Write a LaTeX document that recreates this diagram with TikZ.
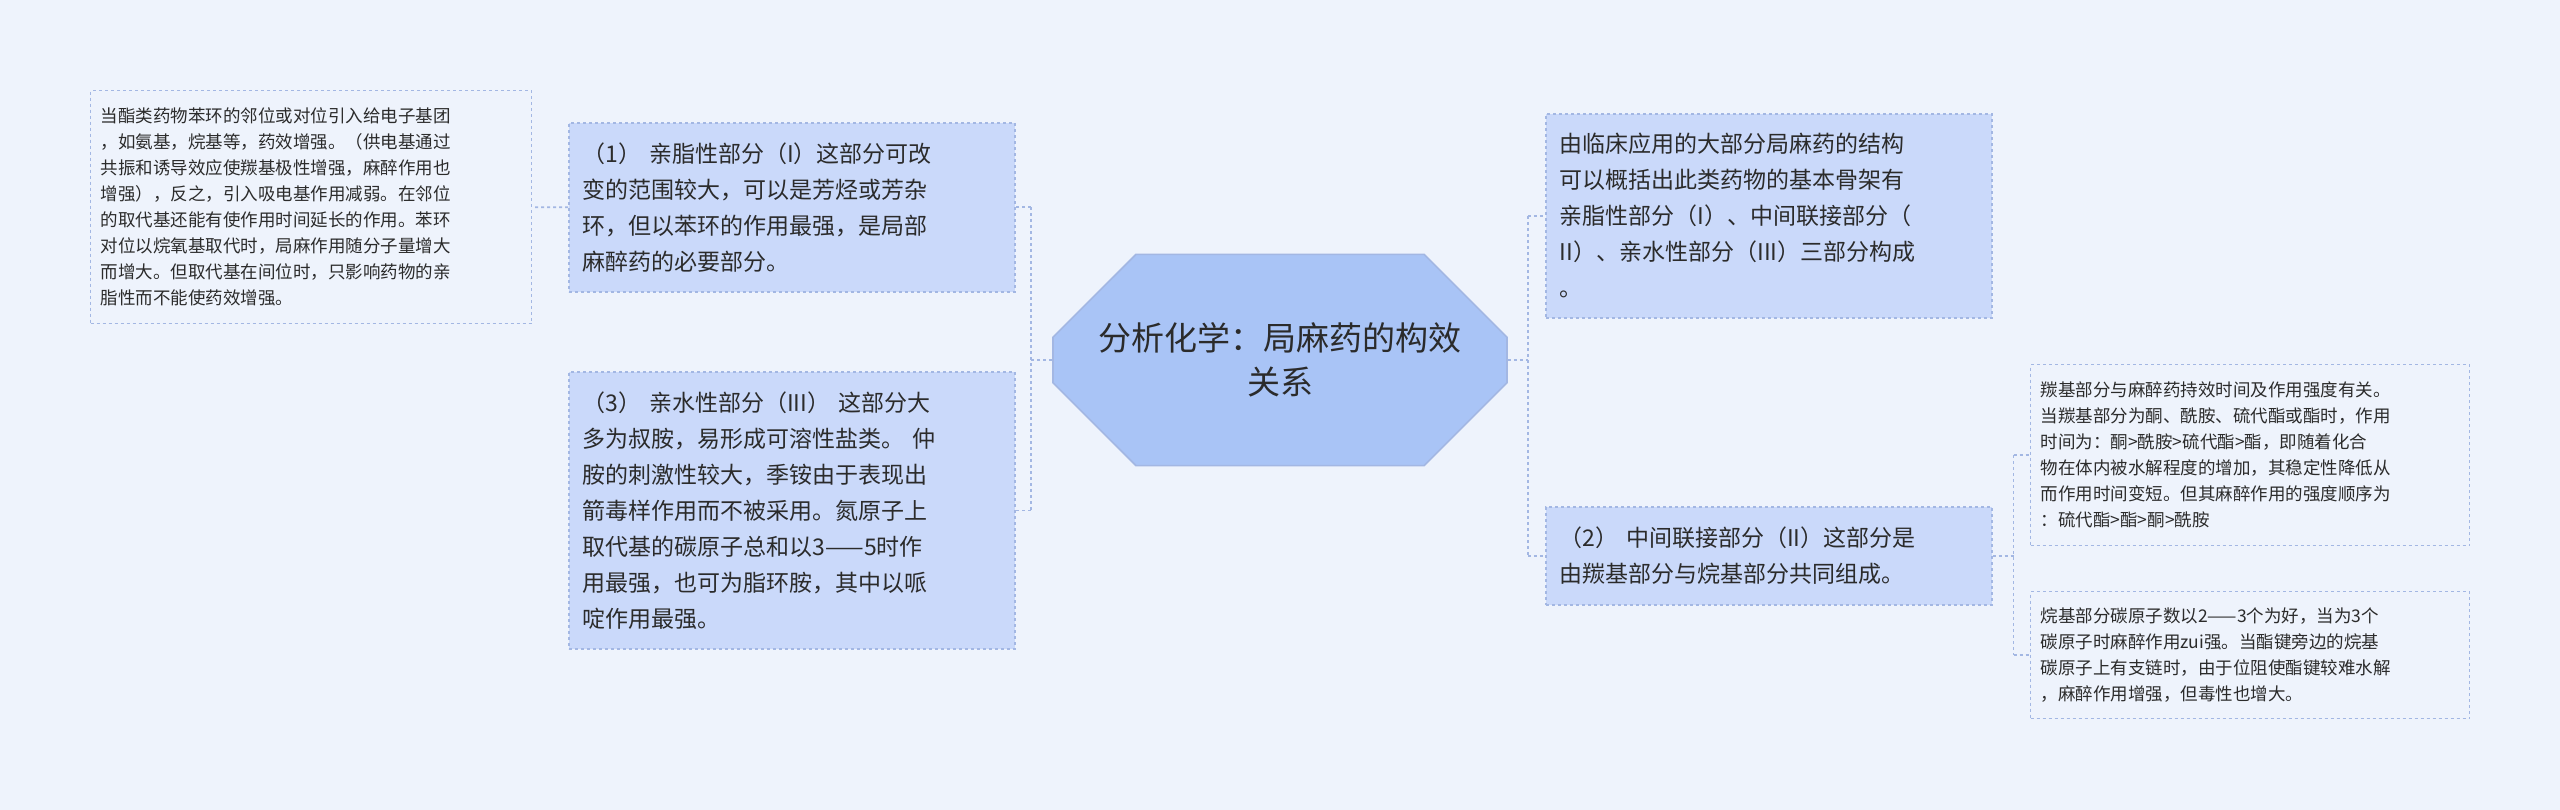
\documentclass[tikz,border=0pt]{standalone}
\usepackage{fontspec}
\setmainfont{Noto Sans CJK SC}
\usetikzlibrary{shapes.misc}
\definecolor{bgblue}{HTML}{EEF3FC}
\definecolor{boxfill}{HTML}{CAD9FA}
\definecolor{boxline}{HTML}{A3B7E3}
\definecolor{rootfill}{HTML}{A9C4F6}
\definecolor{textcol}{HTML}{2B2B2B}
\tikzset{
  topicbox/.style={draw=boxline, dashed, fill=boxfill, line width=1.6pt, text=textcol,
    align=left, inner sep=14pt, font=\fontsize{23}{36}\selectfont, anchor=north west},
  notebox/.style={draw=boxline, dashed, fill=bgblue, line width=1.4pt, text=textcol,
    align=left, inner sep=10pt, font=\fontsize{17.5}{26}\selectfont, anchor=north west},
  link/.style={draw=boxline, dashed, line width=1.6pt}
}
\begin{document}
\begin{tikzpicture}[x=1pt,y=-1pt]
  \fill[bgblue] (0,0) rectangle (2560,810);
  \useasboundingbox (0,0) rectangle (2560,810);

  % root
  \node[draw=boxline, fill=rootfill, line width=1.6pt, chamfered rectangle,
    chamfered rectangle xsep=18pt, chamfered rectangle ysep=65pt,
    minimum width=454pt, minimum height=131pt, align=center, text=textcol,
    font=\fontsize{33}{44}\selectfont] (root) at (1280,360) {分析化学：局麻药的构效\\关系};

  % left side
  \node[topicbox, text width=418pt, minimum height=169pt] (lipo) at (568,122)
    {（1） 亲脂性部分（I）这部分可改\\变的范围较大，可以是芳烃或芳杂\\环，但以苯环的作用最强，是局部\\麻醉药的必要部分。};
  \node[topicbox, text width=418pt, minimum height=277pt] (hydro) at (568,371)
    {（3） 亲水性部分（III） 这部分大\\多为叔胺，易形成可溶性盐类。 仲\\胺的刺激性较大，季铵由于表现出\\箭毒样作用而不被采用。氮原子上\\取代基的碳原子总和以3——5时作\\用最强，也可为脂环胺，其中以哌\\啶作用最强。};
  \node[notebox, text width=421pt, minimum height=233pt] (ring) at (90,90)
    {当酯类药物苯环的邻位或对位引入给电子基团\\，如氨基，烷基等，药效增强。（供电基通过\\共振和诱导效应使羰基极性增强，麻醉作用也\\增强），反之，引入吸电基作用减弱。在邻位\\的取代基还能有使作用时间延长的作用。苯环\\对位以烷氧基取代时，局麻作用随分子量增大\\而增大。但取代基在间位时，只影响药物的亲\\脂性而不能使药效增强。};

  % right side
  \node[topicbox, text width=418pt, minimum height=204pt] (frame) at (1545,113)
    {由临床应用的大部分局麻药的结构\\可以概括出此类药物的基本骨架有\\亲脂性部分（I）、中间联接部分（\\II）、亲水性部分（III）三部分构成\\。};
  \node[topicbox, text width=418pt, minimum height=98pt] (mid) at (1545,506)
    {（2） 中间联接部分（II）这部分是\\由羰基部分与烷基部分共同组成。};
  \node[notebox, text width=419pt, minimum height=181pt] (carbonyl) at (2030,364)
    {羰基部分与麻醉药持效时间及作用强度有关。\\当羰基部分为酮、酰胺、硫代酯或酯时，作用\\时间为：酮>酰胺>硫代酯>酯，即随着化合\\物在体内被水解程度的增加，其稳定性降低从\\而作用时间变短。但其麻醉作用的强度顺序为\\：硫代酯>酯>酮>酰胺};
  \node[notebox, text width=419pt, minimum height=127pt] (alkyl) at (2030,591)
    {烷基部分碳原子数以2——3个为好，当为3个\\碳原子时麻醉作用zui强。当酯键旁边的烷基\\碳原子上有支链时，由于位阻使酯键较难水解\\，麻醉作用增强，但毒性也增大。};

  % connectors
  \draw[link] (root.west) -- ++(-21,0) coordinate (lj)
    (lj |- lipo.east) -- (lj |- hydro.east)
    (lj |- lipo.east) -- (lipo.east) (lj |- hydro.east) -- (hydro.east);
  \draw[link] (lipo.west) -- (ring.east);
  \draw[link] (root.east) -- ++(20,0) coordinate (rj)
    (rj |- frame.west) -- (rj |- mid.west)
    (rj |- frame.west) -- (frame.west) (rj |- mid.west) -- (mid.west);
  \draw[link] (mid.east) -- ++(21,0) coordinate (mj)
    (mj |- carbonyl.west) -- (mj |- alkyl.west)
    (mj |- carbonyl.west) -- (carbonyl.west) (mj |- alkyl.west) -- (alkyl.west);
\end{tikzpicture}
\end{document}
